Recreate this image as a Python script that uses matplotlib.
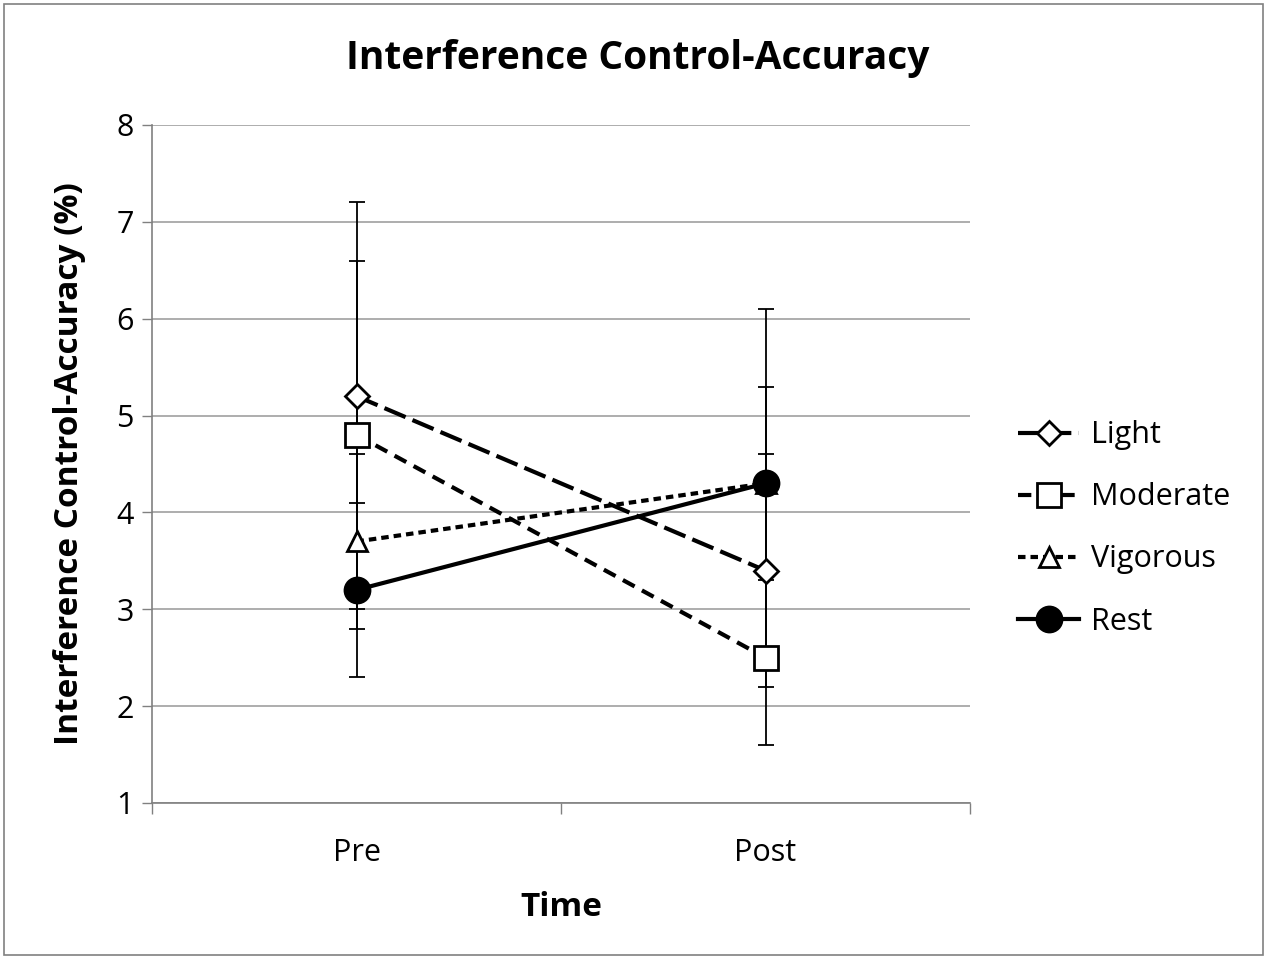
import matplotlib.pyplot as plt
from matplotlib.patches import Rectangle

# Data
times = ["Pre", "Post"]
groups = ["Light", "Moderate", "Vigorous", "Rest"]
light = [5.2, 3.4]
moderate = [4.8, 2.5]
vigorous = [3.7, 4.3]
rest = [3.2, 4.3]
light_err = [2.0, 1.2]
moderate_err = [1.8, 0.9]
vigorous_err = [0.9, 1.0]
rest_err = [0.9, 1.8]

plt.rcParams['font.family'] = ['Open Sans', 'DejaVu Sans']

fig = plt.figure(figsize=(12.68, 9.59), dpi=100)
ax = fig.add_axes([152 / 1268, 1 - 803 / 959, 818 / 1268, 678 / 959])

x = list(range(len(times)))
styles = [
    (light, light_err, "D", "white", (0, (5.5, 1.8)), 12),
    (moderate, moderate_err, "s", "white", (0, (3.2, 2)), 17),
    (vigorous, vigorous_err, "^", "white", (0, (1.8, 1.2)), 15),
    (rest, rest_err, "o", "black", "-", 18),
]
for (vals, errs, mk, fc, ls, ms), name in zip(styles, groups):
    ax.errorbar(x, vals, yerr=errs, color="black", ecolor="black", elinewidth=1.3,
                capsize=6, capthick=1.3, zorder=2, linestyle="none")
    ax.plot(x, vals, color="black", linestyle=ls, linewidth=3, marker=mk,
            markersize=ms, markerfacecolor=fc, markeredgecolor="black",
            markeredgewidth=2, label=name, zorder=3)

ax.set_xlim(-0.5, 1.5)
ax.set_ylim(1, 8)
ax.set_yticks(range(1, 9))
ax.set_xticks(x)
ax.set_xticklabels(times)
ax.set_xticks([-0.5, 0.5, 1.5], minor=True)
ax.tick_params(axis="x", which="major", length=0, labelsize=22, pad=25)
ax.tick_params(axis="x", which="minor", length=8, width=1, color="#808080")
ax.tick_params(axis="y", length=7, width=1, color="#808080", labelsize=22, pad=6)
ax.yaxis.grid(True, color="#a0a0a0", linewidth=1.2)
ax.set_axisbelow(True)
for s in ["top", "right"]:
    ax.spines[s].set_visible(False)
for s in ["left", "bottom"]:
    ax.spines[s].set_color("#808080")
    ax.spines[s].set_linewidth(1.2)

ax.set_xlabel("Time", fontsize=24, fontweight="bold", labelpad=17)
ax.set_ylabel("Interference Control-Accuracy (%)", fontsize=24, fontweight="bold", labelpad=22)
fig.text(638 / 1268, 1 - 58 / 959, "Interference Control-Accuracy", fontsize=28,
         fontweight="bold", ha="center", va="center")

ax.legend(loc="center left", bbox_to_anchor=(1.025, 0.405), frameon=False, fontsize=22,
          handlelength=2.0, labelspacing=1.05, handletextpad=0.4)

fig.patches.append(Rectangle((4 / 1268, 4 / 959), 1259 / 1268, 951 / 959,
                             transform=fig.transFigure, fill=False,
                             edgecolor="#808080", linewidth=1.2))

fig.savefig("out.png", dpi=100)
